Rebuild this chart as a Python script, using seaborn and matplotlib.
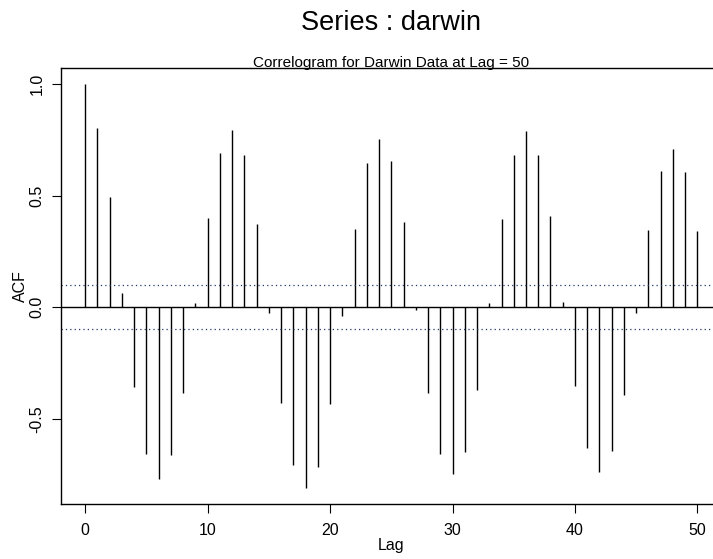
import numpy as np
import matplotlib
matplotlib.use("Agg")
import matplotlib.pyplot as plt
import seaborn as sns

# sample autocorrelations
lags = list(range(0, 51))
acf = [1.000, 0.802, 0.493, 0.066, -0.355, -0.655, -0.769, -0.663, -0.382, 0.018,
       0.400, 0.690, 0.796, 0.684, 0.372, -0.027, -0.430, -0.707, -0.810, -0.716,
       -0.434, -0.039, 0.351, 0.646, 0.755, 0.654, 0.381, -0.013, -0.382, -0.655,
       -0.746, -0.649, -0.370, 0.021, 0.397, 0.681, 0.791, 0.681, 0.407, 0.022,
       -0.351, -0.628, -0.736, -0.643, -0.391, -0.027, 0.345, 0.609, 0.710, 0.607,
       0.340]
conf_bound = 0.0985
x_ticks = [0, 10, 20, 30, 40, 50]
y_ticks = [-0.5, 0.0, 0.5, 1.0]

sns.set_style("ticks")
plt.rcParams['font.family'] = ['Liberation Sans', 'DejaVu Sans']
plt.rcParams['text.color'] = 'black'
plt.rcParams['axes.labelcolor'] = 'black'

fig = plt.figure(figsize=(7.13, 5.59), dpi=100)
# axes box runs past the right edge, as in the original output
ax = fig.add_axes([0.0849, 0.0984, 0.9277, 0.78])

ax.vlines(lags, 0, acf, color="black", linewidth=1.0)
ax.axhline(0, color="black", linewidth=1.0)
for b in (conf_bound, -conf_bound):
    ax.axhline(b, color="#1f3a66", linewidth=0.9, linestyle=(0, (1, 2.5)))

ax.set_xlim(-2, 52)
ax.set_ylim(-0.881, 1.072)
ax.set_xticks(x_ticks)
ax.set_yticks(y_ticks)
ax.set_yticklabels([f"{v:.1f}" for v in y_ticks], rotation=90, va="center")
ax.tick_params(axis="both", direction="out", length=6.7, width=0.8,
               labelsize=11.5, colors="black")
ax.tick_params(axis="x", pad=7)
ax.tick_params(axis="y", pad=5)
for s in ax.spines.values():
    s.set_linewidth(1.0)
    s.set_color("black")
ax.spines["right"].set_visible(False)

ax.set_xlabel("Lag", fontsize=11.5, labelpad=0)
ax.set_ylabel("ACF", fontsize=11.5, labelpad=1)

cx = 391 / 713
fig.text(cx, 1 - 23 / 559, "Series : darwin", ha="center", va="center", fontsize=19.5)
fig.text(cx, 1 - 63 / 559, "Correlogram for Darwin Data at Lag = 50",
         ha="center", va="center", fontsize=11)

fig.savefig("out.png", dpi=100)
plt.close(fig)
